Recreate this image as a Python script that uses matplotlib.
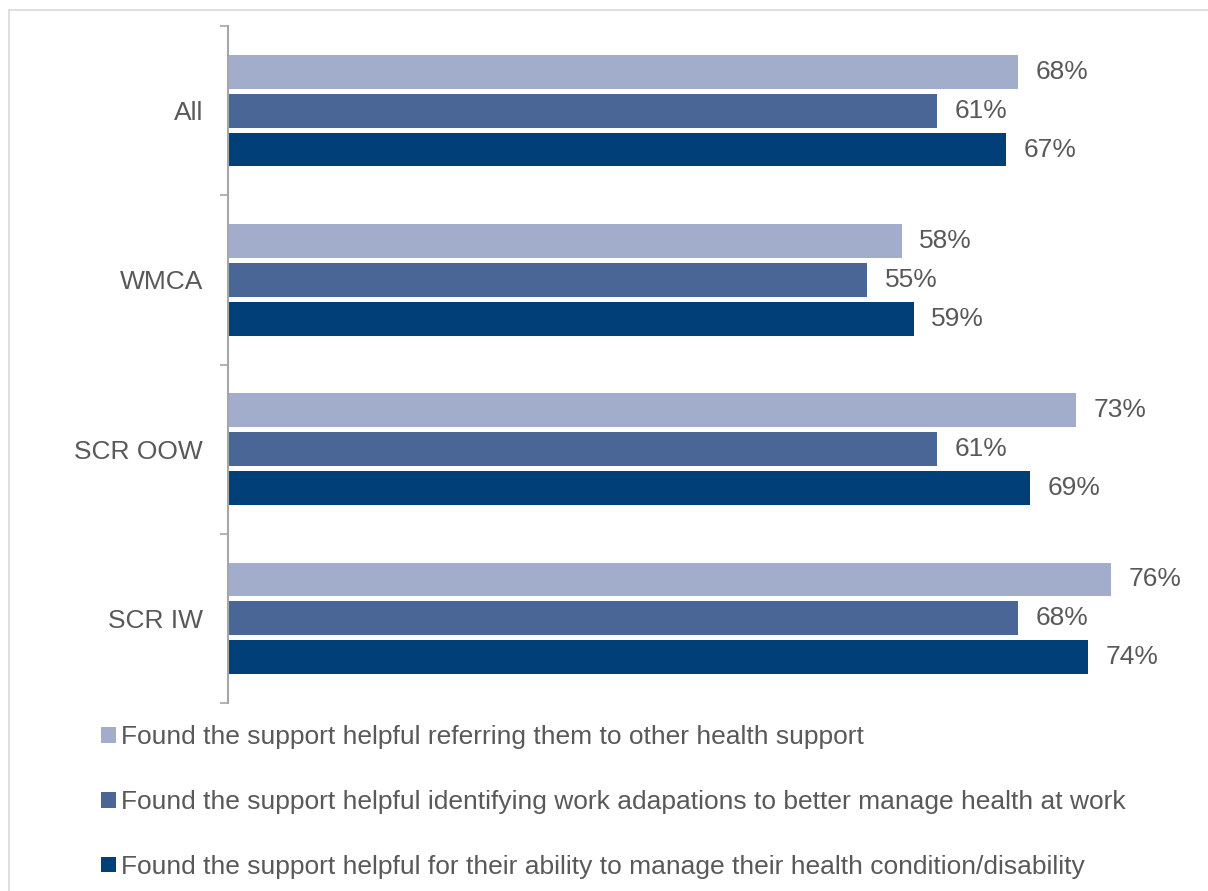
import numpy as np
import matplotlib.pyplot as plt
from matplotlib.patches import Rectangle

plt.rcParams['font.family'] = ['Liberation Sans', 'DejaVu Sans']

groups = ["All", "WMCA", "SCR OOW", "SCR IW"]
series = [
    "Found the support helpful referring them to other health support",
    "Found the support helpful identifying work adapations to better manage health at work",
    "Found the support helpful for their ability to manage their health condition/disability",
]
referring = [68, 58, 73, 76]
adaptations = [61, 55, 61, 68]
managing = [67, 59, 69, 74]
colors = ["#A2ADCB", "#4A6696", "#003F78"]
text_col = "#595959"

fig = plt.figure(figsize=(12.08, 8.91), dpi=100)
W, H = 1208, 891
ax = fig.add_axes([228 / W, 1 - 703 / H, (1204 - 228) / W, (703 - 26) / H])

y = np.arange(len(groups))
pitch = 0.23
height = 0.2
for k, (vals, col, lab) in enumerate(zip([referring, adaptations, managing], colors, series)):
    pos = y + (k - 1) * pitch
    ax.barh(pos, vals, height=height, color=col, label=lab)
    for p, v in zip(pos, vals):
        ax.text(v + 1.5, p, f"{v}%", va="center", ha="left", fontsize=19, color=text_col)

ax.set_xlim(0, 84)
ax.set_ylim(len(groups) - 0.5, -0.5)
ax.set_yticks(y)
ax.set_yticklabels(groups, fontsize=19, color=text_col)
ax.tick_params(axis="y", which="major", length=0, pad=18)
ax.set_yticks(np.arange(len(groups) + 1) - 0.5, minor=True)
ax.tick_params(axis="y", which="minor", length=6, color="#A6A6A6", width=1.2)
ax.set_xticks([])
for s in ["top", "right", "bottom"]:
    ax.spines[s].set_visible(False)
ax.spines["left"].set_color("#A6A6A6")
ax.spines["left"].set_linewidth(1.5)

leg = fig.legend(loc="upper left", bbox_to_anchor=(101 / W, 1 - 725 / H), frameon=False,
                 fontsize=19, labelcolor=text_col, handlelength=0.55, handleheight=0.55,
                 handletextpad=0.2, labelspacing=1.55, borderaxespad=0, borderpad=0)

fig.patches.append(Rectangle((9 / W, -0.1), 1.2, 1 - 10 / H + 0.1, transform=fig.transFigure,
                             fill=False, edgecolor="#D9D9D9", linewidth=1.2))

fig.savefig("out.png", dpi=100)
